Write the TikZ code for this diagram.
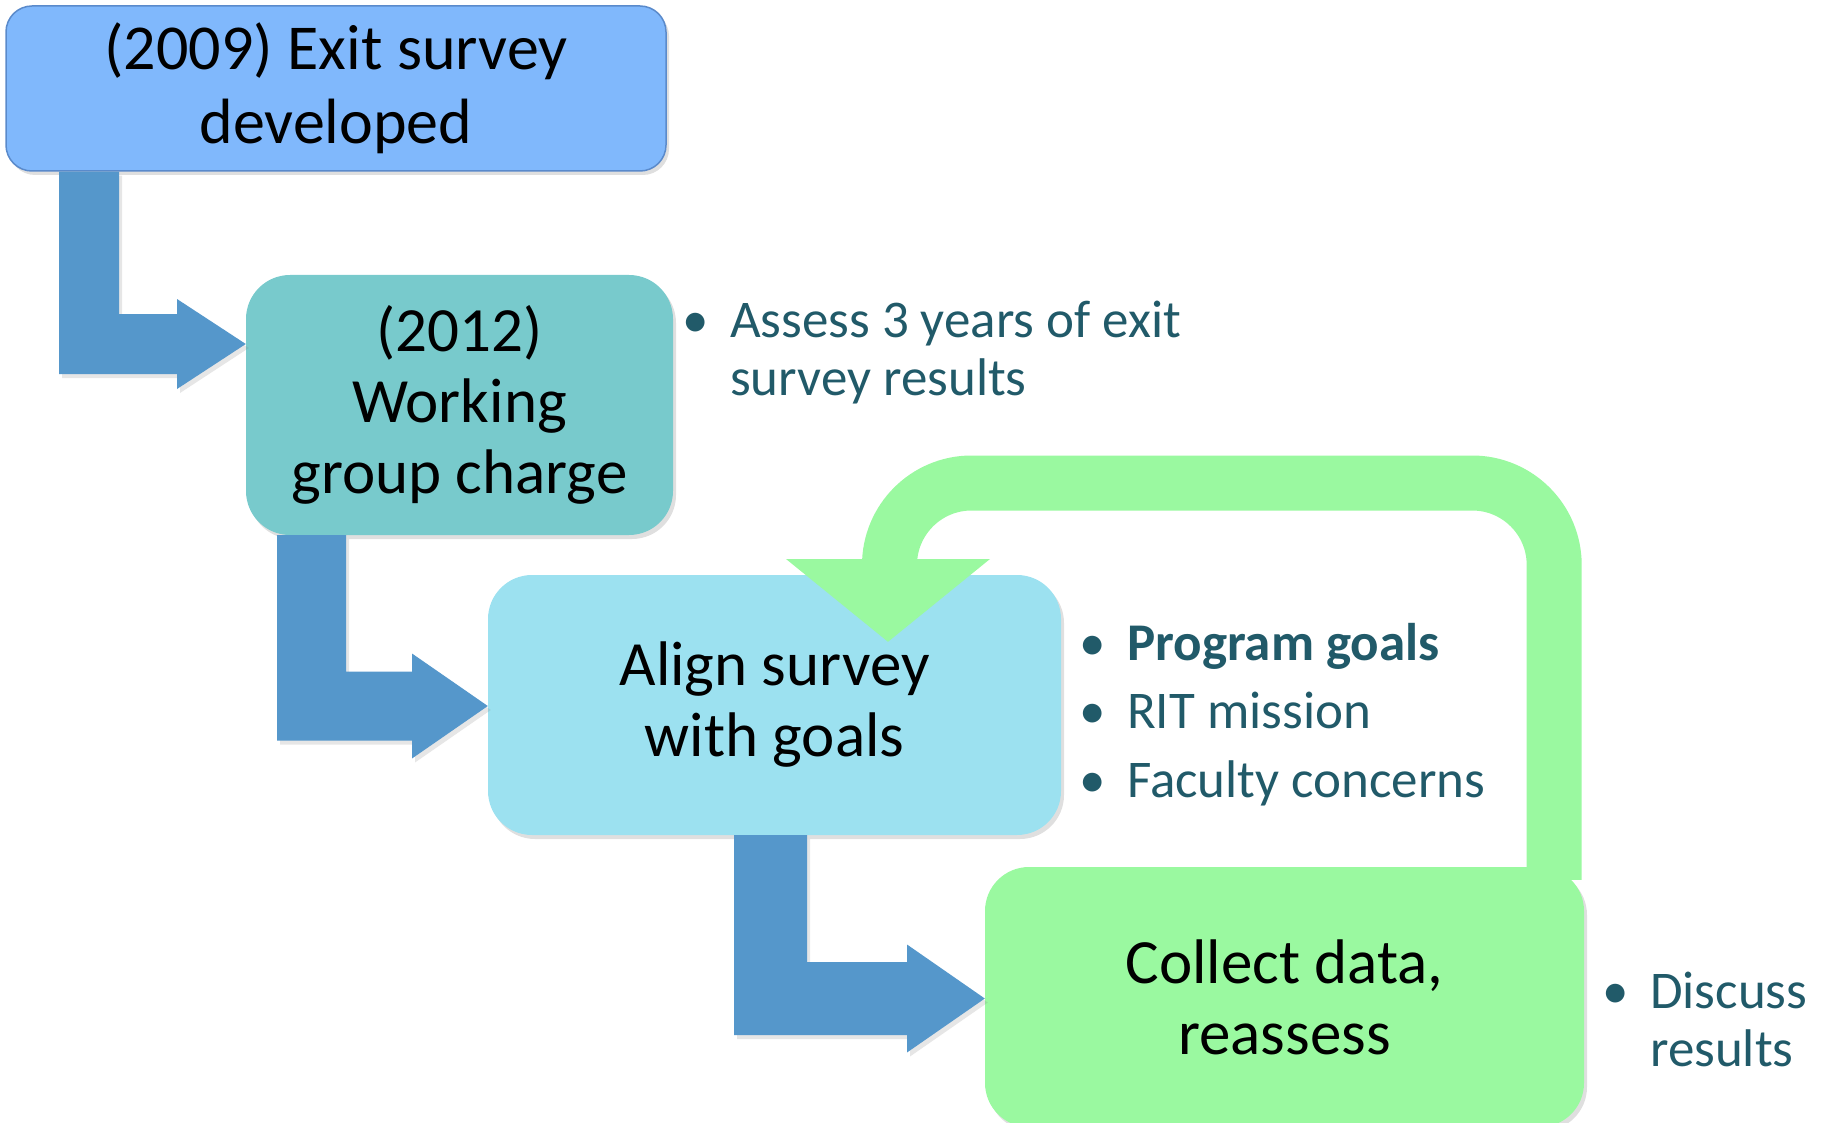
\documentclass[tikz,border=0pt]{standalone}
\usepackage{fontspec}
\setmainfont{Carlito}
\usetikzlibrary{calc,shadows}

\definecolor{boxone}{HTML}{80B8FC}
\definecolor{boxoneedge}{HTML}{5A8ACB}
\definecolor{boxtwo}{HTML}{78CACC}
\definecolor{boxthree}{HTML}{9CE1F0}
\definecolor{boxfour}{HTML}{9AF9A0}
\definecolor{arrowblue}{HTML}{5597CB}
\definecolor{loopgreen}{HTML}{9AF9A0}
\definecolor{notetext}{HTML}{215A69}

\newcommand{\bul}{\llap{\textbullet\hspace{21pt}}}

\begin{document}
\begin{tikzpicture}[x=1pt,y=-1pt]
    \tikzstyle{stage}=[rectangle,rounded corners=44pt,align=center,inner sep=0pt,
      font=\fontsize{63}{71}\selectfont,
      drop shadow={opacity=0.25,shadow xshift=3pt,shadow yshift=-4pt}]
    \tikzstyle{note}=[anchor=base west,align=left,inner sep=0pt,text=notetext,
      font=\fontsize{53}{58}\selectfont]
    \tikzstyle{bentarrow}=[fill=arrowblue,
      drop shadow={opacity=0.2,shadow xshift=3pt,shadow yshift=-4pt}]
    \tikzstyle{loopband}=[draw=loopgreen,line width=55pt,rounded corners=82pt]

    \useasboundingbox (0,0) rectangle (1825,1123);

    \node[stage,fill=boxone,draw=boxoneedge,line width=1.5pt,rounded corners=26pt,
      font=\fontsize{64}{74}\selectfont,
      minimum width=660pt,minimum height=165pt] at (336,88.5) (b1) {(2009) Exit survey\\developed};
    \node[stage,fill=boxtwo,minimum width=427pt,minimum height=260pt] at (459.5,405) (b2) {(2012)\\Working\\group charge};
    \node[stage,fill=boxthree,minimum width=573pt,minimum height=260pt] at (774.5,705) (b3) {Align survey\\with goals};
    \node[stage,fill=boxfour,minimum width=599pt,minimum height=260pt] at (1284.5,997) (b4) {Collect data,\\reassess};

    \foreach \src/\dst/\sx/\w/\ty/\hb/\hh in {b1/b2/59/60/344/177/45,b2/b3/277/69/706/412/52.5,b3/b4/734/73/998.5/907/54} {
      \fill[bentarrow] let \p1=(\src.south), \p2=(\dst.west) in
        (\sx,\y1) -- (\sx+\w,\y1) -- (\sx+\w,\ty-\w/2) -- (\hb,\ty-\w/2) -- (\hb,\ty-\hh)
        -- (\x2,\ty) -- (\hb,\ty+\hh) -- (\hb,\ty+\w/2) -- (\sx,\ty+\w/2) -- cycle;
    }

    % loop back from b4 to b3
    \draw[loopband] let \p1=(b4.north east), \p2=(b3.north) in
      (\x1-30pt,\y1-13pt) -- (\x1-30pt,483) -- (\x2+115pt,483) -- (\x2+115pt,560);
    \fill[loopgreen] let \p2=(b3.north) in
      (\x2+11.5pt,559) -- (\x2+215.5pt,559) -- (\x2+113.5pt,\y2-67pt) -- cycle;

    \node[note] at (730,395) (n1) {\bul Assess 3 years of exit\\survey results};
    \foreach \t [count=\i] in {{\textbf{Program goals}},RIT mission,Faculty concerns} {
      \node[note] at (1127,{591.5+68.5*\i}) (g\i) {\bul\t};
    }
    \node[note] at (1650,1066) (n3) {\bul Discuss\\results};
  \end{tikzpicture}
\end{document}
